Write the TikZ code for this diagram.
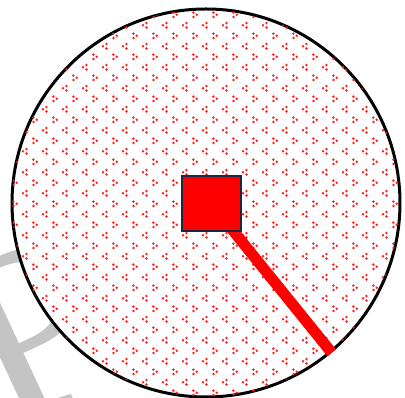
\documentclass[tikz,border=0pt]{standalone}
\usepackage{fontspec}
\usepackage{xcolor}
\usepackage{tikz}
\usetikzlibrary{patterns}
\newfontfamily\markfont{Liberation Serif}
\definecolor{hubnavy}{HTML}{1B2744}
\definecolor{markgrey}{HTML}{C4C4C4}
\definecolor{dotred}{HTML}{FF2020}

% small three-dot chevrons, alternating < and >
\pgfdeclarepatternformonly{chevrondots}{\pgfpointorigin}{\pgfpoint{15.2pt}{15.75pt}}{\pgfpoint{15.2pt}{15.75pt}}{
  \pgfpathcircle{\pgfpoint{2.4pt}{11.8pt}}{1.05pt}
  \pgfpathcircle{\pgfpoint{5pt}{13.45pt}}{1.05pt}
  \pgfpathcircle{\pgfpoint{5pt}{10.15pt}}{1.05pt}
  \pgfpathcircle{\pgfpoint{13pt}{3.9pt}}{1.05pt}
  \pgfpathcircle{\pgfpoint{10.4pt}{5.55pt}}{1.05pt}
  \pgfpathcircle{\pgfpoint{10.4pt}{2.25pt}}{1.05pt}
  \pgfusepath{fill}
}

\begin{document}
\begin{tikzpicture}[
  x=0.75pt, y=0.75pt,
  watermark/.style={text=markgrey, inner sep=0pt, font=\markfont\fontsize{185}{185}\selectfont},
  disc/.style={
    circle,
    draw=black,
    line width=2.25pt,
    minimum size=291pt,
    inner sep=0pt,
    fill=white,
    postaction={pattern=chevrondots, pattern color=dotred}
  },
  hubbox/.style={
    rectangle,
    draw=hubnavy,
    fill=red,
    line width=1.5pt,
    minimum width=44.25pt,
    minimum height=41.25pt,
    inner sep=0pt
  },
  spoke/.style={draw=red, line width=8.25pt}
]
\useasboundingbox (0,0) rectangle (405,398);

\node[watermark, anchor=base west, rotate=25] (mark) at (4,-35) {P};

\node[disc] (plate) at (206,195) {};

\coordinate (hubc) at (211.5,194);
\draw[spoke] (hubc) -- (plate.-50);
\node[hubbox] (hub) at (hubc) {};

\end{tikzpicture}
\end{document}
